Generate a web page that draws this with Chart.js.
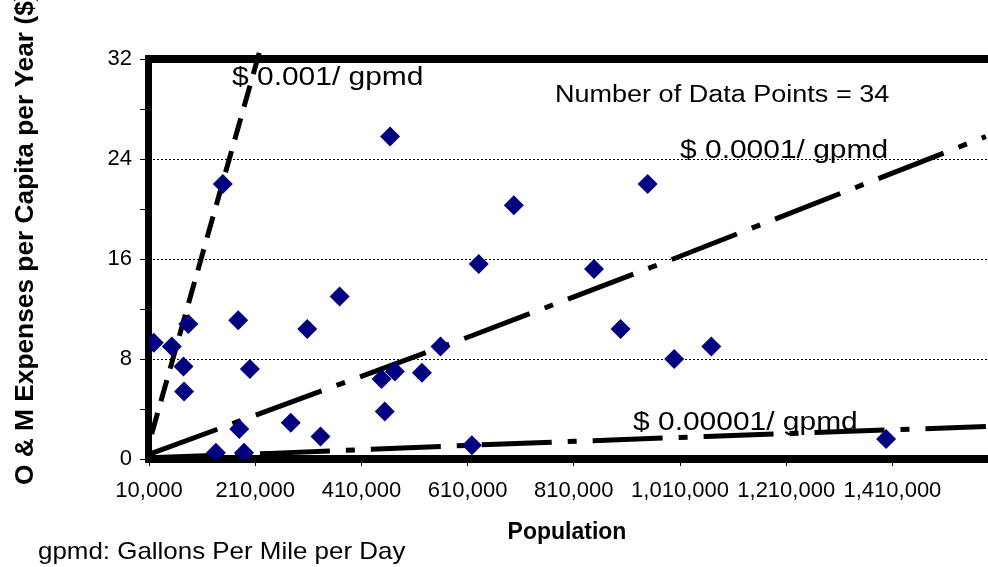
<!DOCTYPE html>
<html>
<head>
<meta charset="utf-8">
<script src="https://cdn.jsdelivr.net/npm/chart.js@4"></script>
<style>
  html, body { margin: 0; padding: 0; background: #fff; }
</style>
</head>
<body>
<canvas id="chart" width="988" height="567"></canvas>
<script>
/* O & M expenses per capita vs population, 34 systems (30 visible markers) */

const populations = [19000, 53000, 84000, 75000, 76000, 178000, 200000, 180000, 136000, 189000,
                     149000, 277000, 308000, 333000, 369000, 464000, 448000, 454000, 473000, 524000,
                     559000, 631000, 618000, 697000, 848000, 898000, 949000, 999000, 1069000, 1398000];
const expenses    = [9.3, 9.0, 10.8, 7.4, 5.4, 11.1, 7.2, 2.4, 0.5, 0.5,
                     22.0, 2.9, 10.4, 1.8, 13.0, 25.8, 6.4, 3.8, 7.0, 6.9,
                     9.0, 15.6, 1.1, 20.3, 15.2, 10.4, 22.0, 8.0, 9.0, 1.6];

/* reference lines */
const highPop  = [15000, 221000];
const highCost = [2.0, 33.0];
const midPop   = [15000, 614000, 997000, 1586000];
const midCost  = [0.45, 9.8, 16.0, 25.8];
const lowPop   = [10000, 238000, 614000, 1059000, 1586000];
const lowCost  = [0.1, 0.45, 1.1, 1.8, 2.6];

const xTickValues = [10000, 210000, 410000, 610000, 810000, 1010000, 1210000, 1410000];
const yTickValues = [0, 8, 16, 24, 32];
const yMinorTicks = [4, 12, 20, 28];

const FONT = '"Liberation Sans", Arial, sans-serif';
const toPts = (xs, ys) => xs.map((x, i) => ({ x, y: ys[i] }));

function wideText(ctx, text, x, y, size, sx, weight) {
  ctx.save();
  ctx.translate(x, y);
  ctx.scale(sx, 1);
  ctx.font = (weight || 'normal') + ' ' + size + 'px ' + FONT;
  ctx.fillStyle = '#000';
  ctx.textBaseline = 'alphabetic';
  ctx.fillText(text, 0, 0);
  ctx.restore();
}

const frame = {
  id: 'frame',
  beforeDatasetsDraw(chart) {
    const { ctx, chartArea: a } = chart;
    ctx.save();
    ctx.fillStyle = '#000';
    ctx.fillRect(a.left - 4, a.top - 4, a.right - a.left + 4, 8);
    ctx.fillRect(a.left - 4, a.top - 4, 7, a.bottom - a.top + 8);
    ctx.fillRect(a.left - 4, a.bottom - 4, a.right - a.left + 4, 8);
    ctx.restore();
  }
};

const texts = {
  id: 'texts',
  afterDraw(chart) {
    const ctx = chart.ctx;
    wideText(ctx, '$ 0.001/ gpmd', 232, 85, 25.6, 1.17);
    wideText(ctx, 'Number of Data Points = 34', 555, 102, 23.3, 1.16);
    wideText(ctx, '$ 0.0001/ gpmd', 680, 158, 25.6, 1.17);
    wideText(ctx, '$ 0.00001/ gpmd', 633, 430, 25.6, 1.17);
    wideText(ctx, 'gpmd: Gallons Per Mile per Day', 38, 559, 24, 1.08);

    ctx.save();
    ctx.font = 'bold 23px ' + FONT;
    ctx.fillStyle = '#000';
    ctx.textAlign = 'center';
    ctx.fillText('Population', 567, 539);
    ctx.restore();

    ctx.save();
    ctx.translate(33, 485);
    ctx.rotate(-Math.PI / 2);
    ctx.font = 'bold 26.3px ' + FONT;
    ctx.fillStyle = '#000';
    ctx.textAlign = 'left';
    ctx.fillText('O & M Expenses per Capita per Year ($)', 0, 0);
    ctx.restore();
  }
};

new Chart(document.getElementById('chart'), {
  type: 'scatter',
  data: {
    datasets: [
      {
        label: 'Systems',
        data: toPts(populations, expenses),
        pointStyle: 'rectRot',
        pointRadius: 10,
        pointHoverRadius: 10,
        backgroundColor: '#000080',
        borderColor: '#000080',
        borderWidth: 0
      },
      {
        label: '$ 0.001/ gpmd',
        data: toPts(highPop, highCost),
        showLine: true,
        pointRadius: 0,
        borderColor: '#000',
        borderWidth: 5,
        borderDash: [22, 12],
        clip: false
      },
      {
        label: '$ 0.0001/ gpmd',
        data: toPts(midPop, midCost),
        showLine: true,
        pointRadius: 0,
        borderColor: '#000',
        borderWidth: 5,
        borderDash: [70, 16, 9, 16]
      },
      {
        label: '$ 0.00001/ gpmd',
        data: toPts(lowPop, lowCost),
        showLine: true,
        pointRadius: 0,
        borderColor: '#000',
        borderWidth: 5,
        borderDash: [70, 16, 9, 16]
      }
    ]
  },
  options: {
    responsive: false,
    animation: false,
    layout: { autoPadding: false, padding: { top: 59, right: 0, left: 0, bottom: 0 } },
    plugins: {
      legend: { display: false },
      tooltip: { enabled: false }
    },
    scales: {
      x: {
        type: 'linear',
        min: 10000,
        max: 1590000,
        afterBuildTicks: (s) => { s.ticks = xTickValues.map(v => ({ value: v })); },
        afterFit: (s) => { s.height = 108; s.paddingLeft = 0; s.paddingRight = 0; },
        grid: { drawOnChartArea: false, drawTicks: true, tickLength: 7, tickColor: '#000', tickWidth: 1 },
        border: { display: false },
        ticks: {
          autoSkip: false,
          maxRotation: 0,
          color: '#000',
          padding: 12,
          font: { family: FONT, size: 22 },
          callback: (v) => v.toLocaleString('en-US')
        }
      },
      y: {
        min: 0,
        max: 32,
        afterBuildTicks: (s) => {
          s.ticks = yTickValues.concat(yMinorTicks).sort((a, b) => a - b).map(v => ({ value: v }));
        },
        afterFit: (s) => { s.width = 149; s.paddingTop = 0; s.paddingBottom = 0; },
        grid: {
          color: (c) => (c.tick && yTickValues.includes(c.tick.value) && c.tick.value > 0 && c.tick.value < 32) ? '#000' : 'rgba(0,0,0,0)',
          lineWidth: 1,
          drawTicks: true,
          tickLength: 9,
          tickColor: '#000',
          tickWidth: 1
        },
        border: { display: false, dash: [2, 2] },
        ticks: {
          color: '#000',
          padding: 8,
          font: { family: FONT, size: 22 },
          callback: (v) => yTickValues.includes(v) ? String(v) : ''
        }
      }
    }
  },
  plugins: [frame, texts]
});
</script>
</body>
</html>
